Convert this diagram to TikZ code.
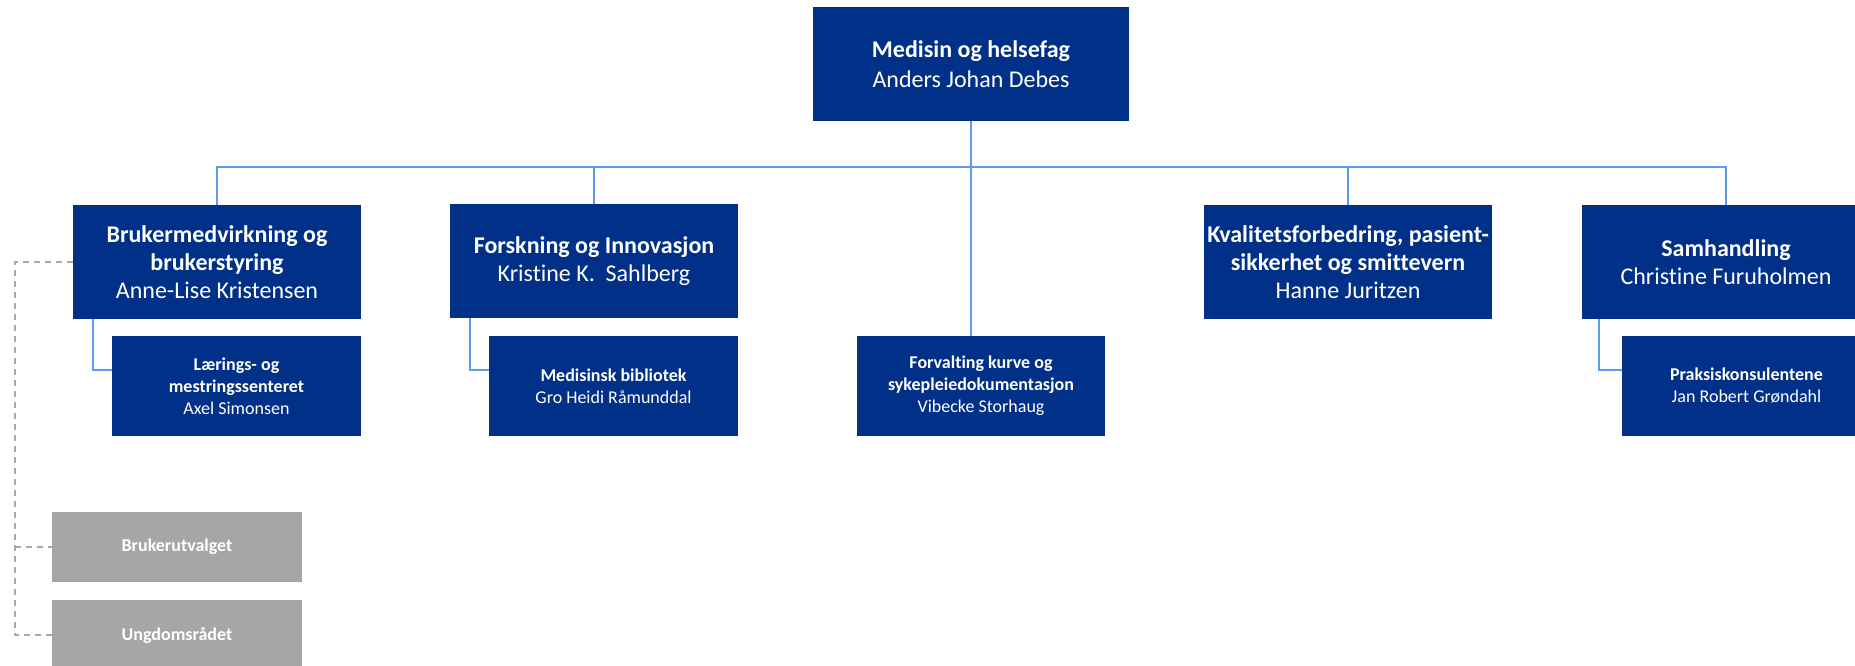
\documentclass[tikz,border=0pt]{standalone}
\usepackage{fontspec}
\setmainfont{Carlito}[Ligatures={NoCommon}]
\definecolor{boxblue}{HTML}{003087}
\definecolor{lineblue}{HTML}{5E9CEA}
\definecolor{boxgray}{HTML}{A6A6A6}
\definecolor{dashgray}{HTML}{A8A8A8}
\begin{document}
\begin{tikzpicture}[x=1pt,y=-1pt,
  unit/.style={fill=boxblue, text=white, inner sep=0pt, align=center,
    font=\fontsize{24}{28}\selectfont, minimum width=288pt, minimum height=114pt},
  headunit/.style={unit, minimum width=316pt, font=\fontsize{24}{30}\selectfont},
  subunit/.style={fill=boxblue, text=white, inner sep=0pt, align=center,
    font=\fontsize{18}{22}\selectfont, minimum width=249pt, minimum height=100pt},
  council/.style={fill=boxgray, text=white, inner sep=0pt, align=center,
    font=\fontsize{18}{22}\selectfont\bfseries, minimum width=250pt, minimum height=70pt},
  orgline/.style={draw=lineblue, line width=1.6pt},
  advline/.style={draw=dashgray, line width=1.5pt, dash pattern=on 6pt off 5pt}]
\useasboundingbox (0,0) rectangle (1855,665);

% boxes
\node[headunit] (top) at (971,64) {\textbf{Medisin og helsefag}\\Anders Johan Debes};
\node[unit] (b1) at (217,262) {\textbf{Brukermedvirkning og}\\\textbf{brukerstyring}\\Anne-Lise Kristensen};
\node[unit] (b2) at (594,261) {\textbf{Forskning og Innovasjon}\\Kristine K.~~Sahlberg};
\node[unit] (kval) at (1348,262) {\textbf{Kvalitetsforbedring, pasient-}\\\textbf{sikkerhet og smittevern}\\Hanne Juritzen};
\node[unit] (sam) at (1726,262) {\textbf{Samhandling}\\Christine Furuholmen};

\node[subunit] (sub1) at (236.5,386) {\textbf{Lærings- og}\\\textbf{mestringssenteret}\\Axel Simonsen};
\node[subunit] (sub2) at (613.5,386) {\textbf{Medisinsk bibliotek}\\Gro Heidi Råmunddal};
\node[subunit, minimum width=248pt] (forv) at (981,386) {\textbf{Forvalting kurve og}\\\textbf{sykepleiedokumentasjon}\\Vibecke Storhaug};
\node[subunit] (prak) at (1746.5,386) {\textbf{Praksiskonsulentene}\\Jan Robert Grøndahl};

\node[council] (ga) at (177,547) {Brukerutvalget};
\node[council] (gb) at (177,635) {Ungdomsrådet};

% connectors
\coordinate (bar) at (971,167);
\coordinate (rail) at (15,0);
\draw[orgline] (top.south) -- (top.south |- forv.north);
\draw[orgline] (b1.north) |- (sam.north |- bar) -- (sam.north);
\draw[orgline] (b2.north) -- (b2.north |- bar);
\draw[orgline] (kval.north) -- (kval.north |- bar);

\draw[orgline] ([xshift=20pt]b1.south west) |- ([yshift=16pt]sub1.west);
\draw[orgline] ([xshift=20pt]b2.south west) |- ([yshift=16pt]sub2.west);
\draw[orgline] ([xshift=17pt]sam.south west) |- ([yshift=16pt]prak.west);

\draw[advline] (b1.west) -| (rail |- gb.west) -- (gb.west);
\draw[advline] (rail |- ga.west) -- (ga.west);
\end{tikzpicture}
\end{document}
